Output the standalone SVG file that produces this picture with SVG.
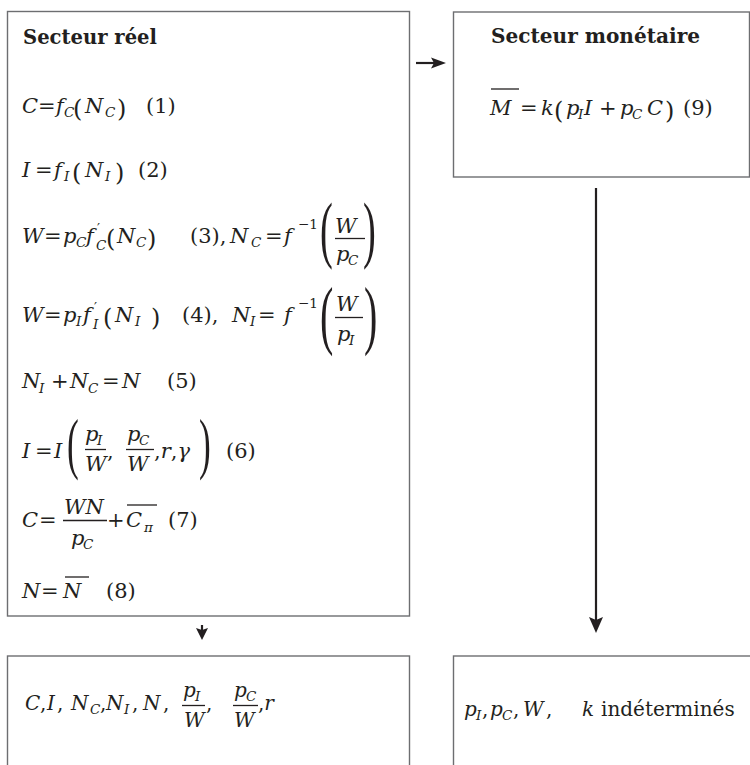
<svg xmlns="http://www.w3.org/2000/svg" width="750" height="765" viewBox="0 0 750 765">
<defs>
<style>
text{font-family:"DejaVu Serif",serif;font-size:21px;fill:#231f20}
.i{font-style:italic}
.h{font-weight:bold;font-size:20px}
.s{font-size:13.5px;font-style:italic}
.su{font-size:13.5px}
.bp{font-size:24px}
.bl{font-size:20px}
.bg{font-family:"Liberation Serif",serif}
.p68{font-size:68px}
.p74{font-size:74px}
.p77{font-size:77px}
.box{fill:none;stroke:#6d6e71;stroke-width:1.4}
.bar{stroke:#231f20;stroke-width:1.3}
.conn{stroke:#231f20;stroke-width:2.2;fill:none}
</style>
<marker id="ah" markerUnits="userSpaceOnUse" viewBox="-7 -8 18 16" markerWidth="18" markerHeight="16" refX="0" refY="0" orient="auto">
<path d="M10,0 L-6,-7 L-3,0 L-6,7 Z" fill="#231f20"/>
</marker>
<marker id="ahm" markerUnits="userSpaceOnUse" viewBox="-8 -7 18 14" markerWidth="18" markerHeight="14" refX="0" refY="0" orient="auto">
<path d="M8,0 L-7,-5.5 L-4,0 L-7,5.5 Z" fill="#231f20"/>
</marker>
<marker id="ahs" markerUnits="userSpaceOnUse" viewBox="-7 -7 16 14" markerWidth="16" markerHeight="14" refX="0" refY="0" orient="auto">
<path d="M7,0 L-5,-6 L-3,0 L-5,6 Z" fill="#231f20"/>
</marker>
</defs>
<rect x="0" y="0" width="750" height="765" fill="#ffffff"/>

<g id="connectors">
<line class="conn" x1="416" y1="63" x2="438" y2="63" marker-end="url(#ahm)"/>
<line class="conn" x1="202" y1="625" x2="202" y2="633" marker-end="url(#ahs)"/>
<line class="conn" x1="596" y1="188" x2="596" y2="623" marker-end="url(#ah)"/>
</g>

<g id="secteur-reel">
<rect class="box" x="7.5" y="11.5" width="402" height="604.5"/>
<text class="h" x="23" y="44" textLength="134" lengthAdjust="spacingAndGlyphs">Secteur réel</text>
<text y="113"><tspan class="i" x="22">C</tspan><tspan x="38">=</tspan><tspan class="i" x="56">f</tspan><tspan class="s" x="64" y="117">C</tspan><tspan class="bp" x="73" y="117">(</tspan><tspan class="i" x="85" y="113">N</tspan><tspan class="s" x="105" y="117">C</tspan><tspan class="bp" x="117" y="117">)</tspan><tspan x="146" y="113">(1)</tspan></text>
<text y="177"><tspan class="i" x="22">I</tspan><tspan x="35">=</tspan><tspan class="i" x="54">f</tspan><tspan class="s" x="64" y="181">I</tspan><tspan class="bp" x="72" y="181">(</tspan><tspan class="i" x="85" y="177">N</tspan><tspan class="s" x="105" y="181">I</tspan><tspan class="bp" x="115" y="181">)</tspan><tspan x="138" y="177">(2)</tspan></text>
<text y="243"><tspan class="i" x="22">W</tspan><tspan x="44">=</tspan><tspan class="i" x="63">p</tspan><tspan class="s" x="76" y="247">C</tspan><tspan class="i" x="86" y="243">f</tspan><tspan class="su" x="97" y="233">′</tspan><tspan class="s" x="96" y="250">C</tspan><tspan class="bp" x="106" y="247">(</tspan><tspan class="i" x="117" y="243">N</tspan><tspan class="s" x="136" y="247">C</tspan><tspan class="bp" x="147" y="247">)</tspan><tspan x="190" y="243">(3),</tspan><tspan class="i" x="230">N</tspan><tspan class="s" x="251" y="247">C</tspan><tspan x="265" y="243">=</tspan><tspan class="i" x="284">f</tspan><tspan class="su" x="298" y="229">−1</tspan></text>
<text class="bg p74" transform="translate(320,253.5) scale(0.52,1)">(</text>
<text class="i" x="335" y="233">W</text>
<line class="bar" x1="335" y1="238.5" x2="365" y2="238.5"/>
<text y="261"><tspan class="i" x="336">p</tspan><tspan class="s" x="348" y="265">C</tspan></text>
<text class="bg p74" transform="translate(363,253.5) scale(0.52,1)">)</text>
<text y="322"><tspan class="i" x="22">W</tspan><tspan x="44">=</tspan><tspan class="i" x="63">p</tspan><tspan class="s" x="76" y="326">I</tspan><tspan class="i" x="83" y="322">f</tspan><tspan class="su" x="94" y="312">′</tspan><tspan class="s" x="93" y="329">I</tspan><tspan class="bp" x="103" y="326">(</tspan><tspan class="i" x="115" y="322">N</tspan><tspan class="s" x="135" y="326">I</tspan><tspan class="bp" x="151" y="326">)</tspan><tspan x="182" y="322">(4),</tspan><tspan class="i" x="232">N</tspan><tspan class="s" x="250" y="326">I</tspan><tspan x="258" y="322">=</tspan><tspan class="i" x="284">f</tspan><tspan class="su" x="298" y="308">−1</tspan></text>
<text class="bg p77" transform="translate(320,339.5) scale(0.52,1)">(</text>
<text class="i" x="336" y="311">W</text>
<line class="bar" x1="335" y1="317.5" x2="363" y2="317.5"/>
<text y="341"><tspan class="i" x="337">p</tspan><tspan class="s" x="349" y="345">I</tspan></text>
<text class="bg p77" transform="translate(364,339.5) scale(0.52,1)">)</text>
<text y="388"><tspan class="i" x="22">N</tspan><tspan class="s" x="39" y="393">I</tspan><tspan x="51" y="388">+</tspan><tspan class="i" x="70">N</tspan><tspan class="s" x="88" y="393">C</tspan><tspan x="102" y="388">=</tspan><tspan class="i" x="122">N</tspan><tspan x="167">(5)</tspan></text>
<text y="458"><tspan class="i" x="22">I</tspan><tspan x="35">=</tspan><tspan class="i" x="54">I</tspan></text>
<text class="bg p68" transform="translate(67,466) scale(0.52,1)">(</text>
<text y="441"><tspan class="i" x="85">p</tspan><tspan class="s" x="97" y="445">I</tspan></text>
<line class="bar" x1="85" y1="449.5" x2="106" y2="449.5"/>
<text class="i" x="85" y="471">W</text>
<text x="107" y="458">,</text>
<text y="441"><tspan class="i" x="127">p</tspan><tspan class="s" x="139" y="445">C</tspan></text>
<line class="bar" x1="126" y1="449.5" x2="154" y2="449.5"/>
<text class="i" x="127" y="471">W</text>
<text y="458"><tspan x="154">,</tspan><tspan class="i">r</tspan><tspan>,</tspan><tspan class="i">γ</tspan></text>
<text class="bg p68" transform="translate(199,466) scale(0.52,1)">)</text>
<text x="226" y="458">(6)</text>
<text y="527"><tspan class="i" x="22">C</tspan><tspan x="39">=</tspan></text>
<text class="i" x="64" y="514">WN</text>
<line class="bar" x1="63" y1="520.5" x2="107" y2="520.5"/>
<text y="545"><tspan class="i" x="71">p</tspan><tspan class="s" x="83" y="549">C</tspan></text>
<text y="527"><tspan x="107">+</tspan><tspan class="i" x="126">C</tspan><tspan class="s" x="144" y="532">π</tspan><tspan x="168" y="527">(7)</tspan></text>
<line class="bar" x1="127" y1="505" x2="157" y2="505"/>
<text y="598"><tspan class="i" x="22">N</tspan><tspan x="41">=</tspan><tspan class="i" x="63">N</tspan><tspan x="106">(8)</tspan></text>
<line class="bar" x1="65" y1="577" x2="89" y2="577"/>
</g>

<g id="secteur-monetaire">
<rect class="box" x="453.5" y="12" width="296" height="165"/>
<text class="h" x="491" y="43" textLength="209" lengthAdjust="spacingAndGlyphs">Secteur monétaire</text>
<line class="bar" x1="491" y1="89" x2="519" y2="89"/>
<text y="115"><tspan class="i" x="490">M</tspan><tspan x="520">=</tspan><tspan class="i" x="541">k</tspan><tspan class="bp" x="554" y="119">(</tspan><tspan class="i" x="566" y="115">p</tspan><tspan class="s" x="578" y="119">I</tspan><tspan class="i" x="584" y="115">I</tspan><tspan x="599">+</tspan><tspan class="i" x="620">p</tspan><tspan class="s" x="632" y="119">C</tspan><tspan class="i" x="647" y="115">C</tspan><tspan class="bp" x="665" y="119">)</tspan><tspan x="683" y="115">(9)</tspan></text>
</g>

<g id="variables-determinees">
<rect class="box" x="7.5" y="656" width="402" height="130"/>
<text class="bl" y="710"><tspan class="i" x="25">C</tspan><tspan x="40">,</tspan><tspan class="i" x="47">I</tspan><tspan x="57">,</tspan><tspan class="i" x="71">N</tspan><tspan class="s" x="90" y="714">C</tspan><tspan x="100" y="710">,</tspan><tspan class="i" x="106">N</tspan><tspan class="s" x="124" y="714">I</tspan><tspan x="132" y="710">,</tspan><tspan class="i" x="143">N</tspan><tspan x="163">,</tspan></text>
<text class="bl" y="697"><tspan class="i" x="183">p</tspan><tspan class="s" x="195" y="701">I</tspan></text>
<line class="bar" x1="182" y1="705.5" x2="205" y2="705.5"/>
<text class="i bl" x="184" y="727">W</text>
<text class="bl" x="206" y="710">,</text>
<text class="bl" y="697"><tspan class="i" x="234">p</tspan><tspan class="s" x="246" y="701">C</tspan></text>
<line class="bar" x1="233" y1="705.5" x2="258" y2="705.5"/>
<text class="i bl" x="234" y="727">W</text>
<text class="bl" y="710"><tspan x="258">,</tspan><tspan class="i">r</tspan></text>
</g>

<g id="variables-indeterminees">
<rect class="box" x="453.5" y="656" width="320" height="130"/>
<text class="bl" y="716"><tspan class="i" x="464">p</tspan><tspan class="s" x="476" y="720">I</tspan><tspan x="482" y="716">,</tspan><tspan class="i" x="490">p</tspan><tspan class="s" x="502" y="720">C</tspan><tspan x="513" y="716">,</tspan><tspan class="i" x="523">W</tspan><tspan x="546">,</tspan><tspan class="i" x="582">k</tspan><tspan x="601">indéterminés</tspan></text>
</g>
</svg>
